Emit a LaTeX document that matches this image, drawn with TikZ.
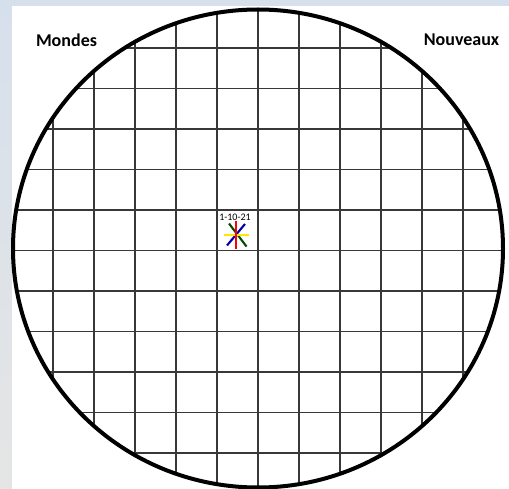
\documentclass[tikz,border=0pt]{standalone}
\usepackage{fontspec}
\setmainfont{Carlito}
\begin{document}
\begin{tikzpicture}[x=1pt, y=-1pt,
  gridline/.style={line width=1.4pt,black!78},
  rim/.style={line width=4pt,black},
  ray/.style={line width=2.1pt},
  title/.style={font=\fontsize{18}{20}\selectfont\bfseries,inner sep=0pt},
  datelabel/.style={font=\fontsize{10}{12}\selectfont,inner sep=0pt}]
\useasboundingbox (0,0) rectangle (509,489);
% background
\shade[top color={rgb,255:red,214;green,224;blue,236}, bottom color={rgb,255:red,229;green,229;blue,229}] (0,0) rectangle (509,489);
\fill[white] (12,6) rectangle (509,489);
% grid inside the circle
\begin{scope}
\clip (258,248.5) ellipse [x radius=245pt, y radius=239pt];
\foreach \i in {0,...,10}
  \draw[gridline] ({53+41*\i},0) -- ({53+41*\i},489);
\foreach \j in {0,...,10}
  \draw[gridline] (0,{48+40.5*\j}) -- (509,{48+40.5*\j});
\end{scope}
\draw[rim] (258,248.5) ellipse [x radius=245pt, y radius=239pt];
% titles
\node[title] (mondes) at (66.5,40) {Mondes};
\node[title] (nouveaux) at (461.5,40) {Nouveaux};
% star
\draw[ray,green!30!black] (229,223.5) -- (246.5,246.5);
\draw[ray,blue!70!black] (245,224) -- (227,245.5);
\draw[ray,yellow!90!orange] (224,235) -- (248.5,235);
\draw[ray,red] (236,221.5) -- (236,249.5);
\node[datelabel] (date) at (235,217) {1-10-21};
\end{tikzpicture}
\end{document}
